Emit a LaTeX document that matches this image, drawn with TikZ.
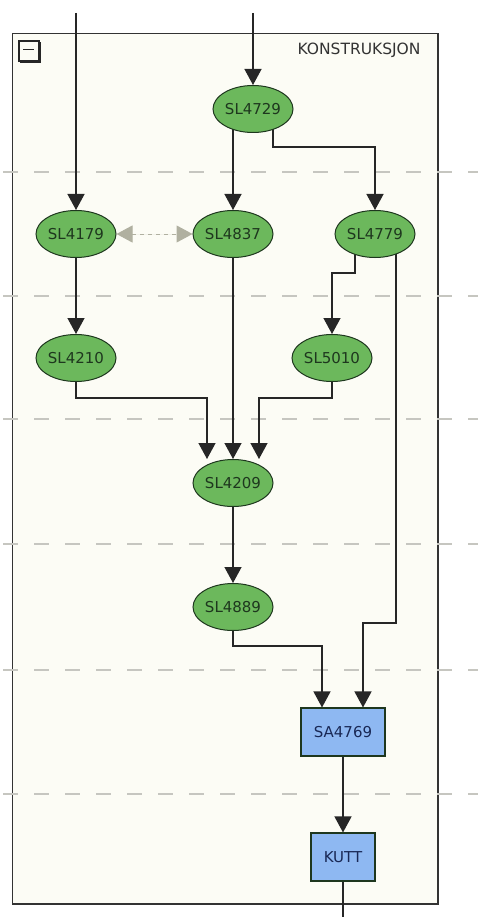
\documentclass[tikz,border=0pt]{standalone}
\usepackage{fontspec}
\setmainfont{DejaVu Sans}
\usepackage{tikz}
\usetikzlibrary{arrows.meta,shapes.geometric,backgrounds}
\definecolor{nodegreen}{RGB}{108,184,92}
\definecolor{nodeline}{RGB}{30,55,30}
\definecolor{boxblue}{RGB}{142,184,242}
\definecolor{boxtext}{RGB}{25,40,85}
\definecolor{paneback}{RGB}{252,252,245}
\definecolor{gridgray}{RGB}{198,198,192}
\definecolor{linkgray}{RGB}{176,176,160}
\pgfdeclarelayer{edgelayer}
\pgfsetlayers{background,edgelayer,main}
\tikzset{
  op/.style={ellipse, draw=nodeline, line width=1pt, fill=nodegreen, minimum width=80pt, minimum height=47pt, inner sep=0pt, text=nodeline, font=\fontsize{15}{17}\selectfont},
  act/.style={rectangle, draw=nodeline, line width=1.1pt, fill=boxblue, minimum height=48pt, inner sep=0pt, text=boxtext, font=\fontsize{15}{17}\selectfont},
  arr/.style={-{Triangle[length=16pt, width=17pt]}, line width=1.3pt, draw=black!85},
  link/.style={{Triangle[length=16pt, width=17pt]}-{Triangle[length=16pt, width=17pt]}, line width=1pt, draw=linkgray, fill=linkgray, dash pattern=on 4pt off 4pt},
  grid/.style={draw=gridgray, line width=1.2pt, dash pattern=on 15pt off 16pt},
}
\begin{document}
\begin{tikzpicture}[x=1pt,y=1pt]
    \useasboundingbox (0,0) rectangle (478,-917);
    % pane
    \begin{scope}[on background layer]
      \draw[fill=paneback, draw=black!80, line width=1.3pt] (12.5,-33.5) rectangle (438,-904);
      \foreach \y in {172,296,419,544,670,794}{\draw[grid] (3,-\y) -- (478,-\y);}
    \end{scope}
    \draw[line width=1.2pt, black!85] (19,-41) rectangle (39,-61);
    \draw[line width=1.2pt, black!85] (20,-62) -- (40,-62) -- (40,-42);
    \draw[line width=1pt, black!85] (23,-50) -- (34,-50);
    \node[anchor=east, text=black!80, font=\fontsize{15.5}{17}\selectfont] (title) at (424,-50) {KONSTRUKSJON};
    % operations
    \node[op] (n4729) at (253,-109) {SL4729};
    \node[op] (n4179) at (76,-234) {SL4179};
    \node[op] (n4837) at (233,-234) {SL4837};
    \node[op] (n4779) at (375,-234) {SL4779};
    \node[op] (n4210) at (76,-358) {SL4210};
    \node[op] (n5010) at (332,-358) {SL5010};
    \node[op] (n4209) at (233,-483) {SL4209};
    \node[op] (n4889) at (233,-607) {SL4889};
    \node[act, minimum width=84pt] (sa4769) at (343,-732) {SA4769};
    \node[act, minimum width=64pt] (kutt) at (343,-857) {KUTT};
    \coordinate (inA) at (76,-13);
    \coordinate (inB) at (253,-13);
    \coordinate (outA) at (343,-917);
    % connectors
    \begin{pgfonlayer}{edgelayer}
      \draw[arr] (inA) -- (n4179.north);
      \draw[arr] (inB) -- (n4729.north);
      \draw[arr] ([xshift=-20pt]n4729.center) -- (n4837.north);
      \draw[arr] ([xshift=20pt]n4729.center) |- (375,-147) -- (n4779.north);
      \draw[link] (n4179.east) -- (n4837.west);
      \draw[arr] (n4179) -- (n4210.north);
      \draw[arr] ([xshift=-20pt]n4779.center) |- (332,-273) -- (n5010.north);
      \draw[arr] (n4210.center) |- (207,-398) -- ([xshift=-26pt]n4209.north);
      \draw[arr] (n4837) -- (n4209.north);
      \draw[arr] (n5010.center) |- (259,-398) -- ([xshift=26pt]n4209.north);
      \draw[arr] (n4209) -- (n4889.north);
      \draw[arr] (n4889.center) |- (322,-646) -- ([xshift=-21pt]sa4769.north);
      \draw[arr] ([xshift=21pt]n4779.center) |- (363,-623) -- ([xshift=20pt]sa4769.north);
      \draw[arr] (sa4769) -- (kutt.north);
      \draw[line width=1.3pt, black!85] (kutt) -- (outA);
    \end{pgfonlayer}
  \end{tikzpicture}
\end{document}
